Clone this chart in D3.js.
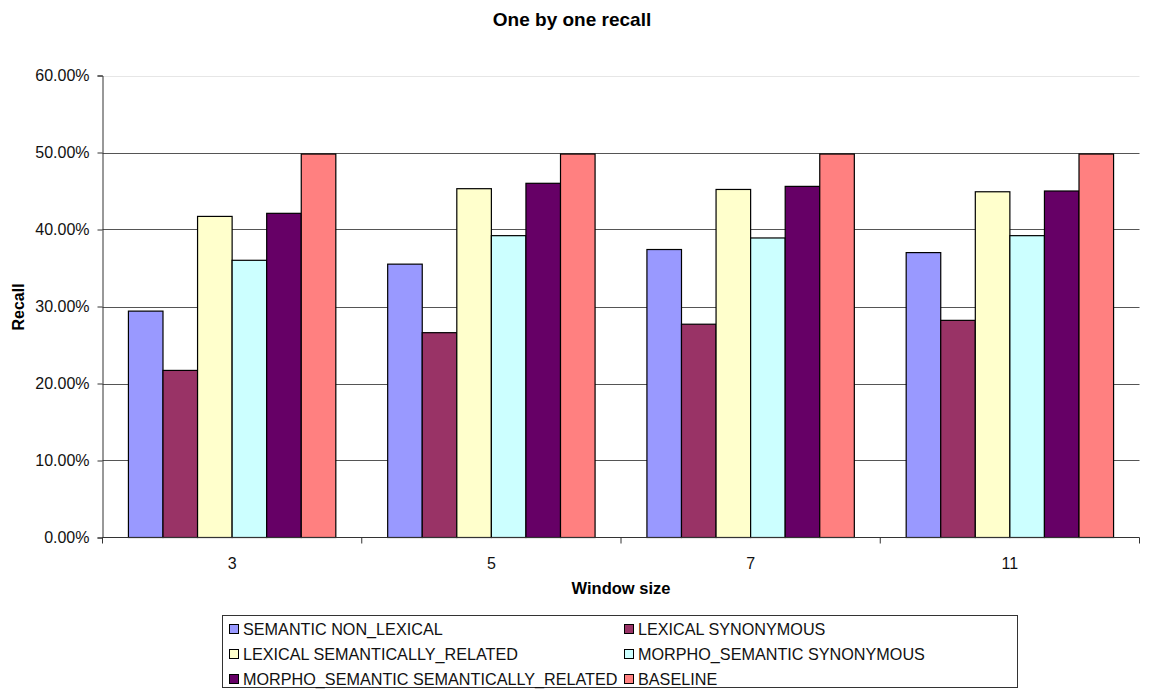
<!DOCTYPE html>
<html>
<head>
<meta charset="utf-8">
<script src="https://cdn.jsdelivr.net/npm/d3@7"></script>
<style>
  html, body { margin: 0; padding: 0; background: #fff; }
  svg { display: block; font-family: "Liberation Sans", Arial, Helvetica, sans-serif; }
</style>
</head>
<body>
<svg id="chart" width="1150" height="689"></svg>
<script>
// Window sizes on the x axis
const categories = ["3", "5", "7", "11"];

// Series names, in drawing order
const seriesNames = [
  "SEMANTIC NON_LEXICAL",
  "LEXICAL SYNONYMOUS",
  "LEXICAL SEMANTICALLY_RELATED",
  "MORPHO_SEMANTIC SYNONYMOUS",
  "MORPHO_SEMANTIC SEMANTICALLY_RELATED",
  "BASELINE"
];

// Recall values (fraction) per series, one per window size
const semanticNonLexical = [0.294, 0.355, 0.374, 0.370];
const lexicalSynonymous = [0.217, 0.266, 0.277, 0.282];
const lexicalSemRelated = [0.417, 0.453, 0.452, 0.449];
const morphoSynonymous = [0.360, 0.392, 0.389, 0.392];
const morphoSemRelated = [0.421, 0.460, 0.456, 0.450];
const baseline = [0.498, 0.498, 0.498, 0.498];

const seriesValues = [
  semanticNonLexical, lexicalSynonymous, lexicalSemRelated,
  morphoSynonymous, morphoSemRelated, baseline
];

const seriesColors = ["#9999FF", "#993366", "#FFFFCC", "#CCFFFF", "#660066", "#FF8080"];

// Y axis tick values
const yTicks = [0, 0.1, 0.2, 0.3, 0.4, 0.5, 0.6];

const svg = d3.select("#chart");

const plot = { left: 102.5, right: 1139.5, top: 75.5, bottom: 537.5 };

const x0 = d3.scaleBand()
  .domain(categories)
  .range([plot.left, plot.right])
  .paddingInner(0)
  .paddingOuter(0);

// Six bars fill 80% of each group (150% gap between groups)
const x1 = d3.scaleBand()
  .domain(d3.range(seriesNames.length))
  .range([x0.bandwidth() * 0.1, x0.bandwidth() * 0.9])
  .padding(0);

const y = d3.scaleLinear().domain([0, 0.6]).range([plot.bottom, plot.top]);

// Horizontal gridlines
svg.append("g")
  .selectAll("line")
  .data(yTicks.filter(d => d > 0))
  .join("line")
  .attr("x1", plot.left)
  .attr("x2", plot.right)
  .attr("y1", d => Math.round(y(d)) + 0.5)
  .attr("y2", d => Math.round(y(d)) + 0.5)
  .attr("stroke", d => d === 0.6 ? "#e6e6e6" : "#555")
  .attr("stroke-width", 1);

// Bars
const groups = svg.append("g")
  .selectAll("g")
  .data(categories)
  .join("g")
  .attr("transform", c => `translate(${x0(c)},0)`);

groups.selectAll("rect")
  .data((c, ci) => seriesValues.map((vals, si) => ({ si, v: vals[ci] })))
  .join("rect")
  .attr("x", d => x1(d.si))
  .attr("width", x1.bandwidth())
  .attr("y", d => y(d.v))
  .attr("height", d => y(0) - y(d.v))
  .attr("fill", d => seriesColors[d.si])
  .attr("stroke", "#000")
  .attr("stroke-width", 1.2);

// Y axis
const yAxis = d3.axisLeft(y)
  .tickValues(yTicks)
  .tickSize(5)
  .tickPadding(8)
  .tickFormat(d => (d * 100).toFixed(2) + "%");

const gy = svg.append("g")
  .attr("transform", `translate(${plot.left},0)`)
  .call(yAxis);
gy.select(".domain").attr("stroke", "#333");
gy.selectAll(".tick line").attr("stroke", "#333");
gy.selectAll(".tick text")
  .attr("font-size", "16px")
  .attr("fill", "#111")
  .style("font-family", "'Liberation Sans', Arial, sans-serif");

// X axis: ticks at group boundaries, labels at group centres
const gx = svg.append("g").attr("transform", `translate(0,${plot.bottom})`);
gx.append("line")
  .attr("x1", plot.left).attr("x2", plot.right)
  .attr("y1", 0).attr("y2", 0)
  .attr("stroke", "#333");
const boundaries = categories.map(c => x0(c)).concat([plot.right]);
gx.selectAll("line.tk")
  .data(boundaries)
  .join("line")
  .attr("class", "tk")
  .attr("x1", d => d).attr("x2", d => d)
  .attr("y1", 0).attr("y2", 6)
  .attr("stroke", "#333");
gx.selectAll("text")
  .data(categories)
  .join("text")
  .attr("x", c => x0(c) + x0.bandwidth() / 2)
  .attr("y", 31)
  .attr("text-anchor", "middle")
  .attr("font-size", "16px")
  .attr("fill", "#111")
  .text(c => c);

// Titles
svg.append("text")
  .attr("x", 572)
  .attr("y", 26)
  .attr("text-anchor", "middle")
  .attr("font-size", "19px")
  .attr("font-weight", "bold")
  .text("One by one recall");

svg.append("text")
  .attr("x", 621)
  .attr("y", 594)
  .attr("text-anchor", "middle")
  .attr("font-size", "16.5px")
  .attr("font-weight", "bold")
  .text("Window size");

svg.append("text")
  .attr("transform", "translate(24,307) rotate(-90)")
  .attr("text-anchor", "middle")
  .attr("font-size", "16px")
  .attr("font-weight", "bold")
  .text("Recall");

// Legend
const legend = svg.append("g");
legend.append("rect")
  .attr("x", 222.5).attr("y", 615.5)
  .attr("width", 795).attr("height", 72)
  .attr("fill", "#fff")
  .attr("stroke", "#333");

const colX = [229, 624];
const rowY = [629, 654, 679];
const items = legend.selectAll("g.item")
  .data(seriesNames.map((n, i) => ({ n, i })))
  .join("g")
  .attr("class", "item")
  .attr("transform", d => `translate(${colX[d.i % 2]},${rowY[Math.floor(d.i / 2)]})`);
items.append("rect")
  .attr("x", 0.5).attr("y", -4.5)
  .attr("width", 9).attr("height", 9)
  .attr("fill", d => seriesColors[d.i])
  .attr("stroke", "#000");
items.append("text")
  .attr("x", 14)
  .attr("y", 5.5)
  .attr("font-size", "16.2px")
  .attr("fill", "#111")
  .text(d => d.n);
</script>
</body>
</html>
